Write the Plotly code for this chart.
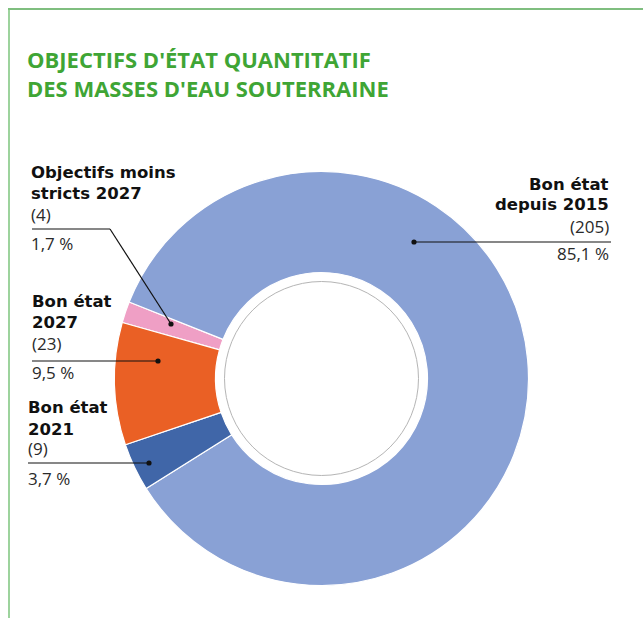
import plotly.graph_objects as go

# Data
labels = ["Objectifs moins stricts 2027", "Bon état depuis 2015", "Bon état 2021", "Bon état 2027"]
counts = [4, 205, 9, 23]
colors = ["#EF9FC5", "#89A1D5", "#4066A8", "#EA6025"]

W, H = 643, 618
CX, CY, R = 321.5, 378.5, 207

def px(x):
    return x / W

def py(y):
    return 1 - y / H

total = sum(counts)
pct = [f"{c / total * 100:.1f}".replace(".", ",") + " %" for c in counts]

BOLD = "DejaVu Sans"
REG = "Open Sans"

fig = go.Figure()
fig.add_trace(go.Pie(
    labels=labels,
    values=counts,
    marker=dict(colors=colors, line=dict(color="white", width=1.2)),
    hole=0.512,
    sort=False,
    direction="clockwise",
    rotation=-74.3,
    textinfo="none",
    hoverinfo="label+value+percent",
    showlegend=False,
    domain=dict(x=[px(CX - R), px(CX + R)], y=[py(CY + R), py(CY - R)]),
))

shapes = []
# frame
shapes.append(dict(type="line", xref="paper", yref="paper", x0=px(8), x1=1.0, y0=py(9), y1=py(9),
                   line=dict(color="#55A955", width=1.5)))
shapes.append(dict(type="line", xref="paper", yref="paper", x0=px(9), x1=px(9), y0=py(8.5), y1=0,
                   line=dict(color="#7CC47C", width=1.5)))
# inner gray ring
r_in = 97
shapes.append(dict(type="circle", xref="paper", yref="paper",
                   x0=px(CX - r_in), x1=px(CX + r_in), y0=py(CY + r_in), y1=py(CY - r_in),
                   line=dict(color="#B5B5B5", width=1)))

# leader lines: (segment points), dot position
leaders = [
    ([(32, 229), (110, 229), (171, 324)], (171, 324)),   # moins stricts
    ([(414, 242), (611, 242)], (414, 242)),              # depuis 2015
    ([(28, 463), (149, 463)], (149, 463)),               # 2021
    ([(32, 361), (158, 361)], (158, 361)),               # 2027
]
for pts, dot in leaders:
    for (x0, y0), (x1, y1) in zip(pts[:-1], pts[1:]):
        shapes.append(dict(type="line", xref="paper", yref="paper",
                           x0=px(x0), y0=py(y0), x1=px(x1), y1=py(y1),
                           line=dict(color="#111111", width=1.2)))
    d = 2.6
    shapes.append(dict(type="circle", xref="paper", yref="paper",
                       x0=px(dot[0] - d), x1=px(dot[0] + d), y0=py(dot[1] + d), y1=py(dot[1] - d),
                       fillcolor="#111111", line=dict(width=0)))

# label blocks: name lines, anchor x, baselines (name1, name2, count, percent), alignment
blocks = [
    (["Objectifs moins", "stricts 2027"], 29, (178, 199, 221, 250), "left"),
    (["Bon état", "depuis 2015"], 611, (190, 210, 233, 260), "right"),
    (["Bon état", "2021"], 26, (413, 435, 455, 485), "left"),
    (["Bon état", "2027"], 30, (307, 328, 350, 379), "left"),
]

def text_at(text, x, baseline, al, family, size, color, bold=False):
    return dict(
        text=f"<b>{text}</b>" if bold else text,
        x=px(x), y=py(baseline - 0.36 * size), xref="paper", yref="paper",
        xanchor=al, yanchor="middle", align=al, showarrow=False,
        font=dict(family=family, size=size, color=color))

annotations = []
for (names, x, bl, al), c, p in zip(blocks, counts, pct):
    annotations.append(text_at(names[0], x, bl[0], al, BOLD, 16.5, "#111111", bold=True))
    annotations.append(text_at(names[1], x, bl[1], al, BOLD, 16.5, "#111111", bold=True))
    annotations.append(text_at(f"({c})", x, bl[2], al, REG, 17, "#2A2A2A"))
    annotations.append(text_at(p, x, bl[3], al, REG, 17, "#2A2A2A"))

# title
annotations.append(dict(
    text="<b>OBJECTIFS D'ÉTAT QUANTITATIF<br>DES MASSES D'EAU SOUTERRAINE</b>",
    x=px(25), y=py(42), xref="paper", yref="paper", xanchor="left", yanchor="top",
    align="left", showarrow=False,
    font=dict(family=REG, size=22, color="#3FA535")))

fig.update_layout(
    width=W, height=H,
    margin=dict(l=0, r=0, t=0, b=0),
    paper_bgcolor="white", plot_bgcolor="white",
    shapes=shapes, annotations=annotations,
)

fig.write_html("out.html")
